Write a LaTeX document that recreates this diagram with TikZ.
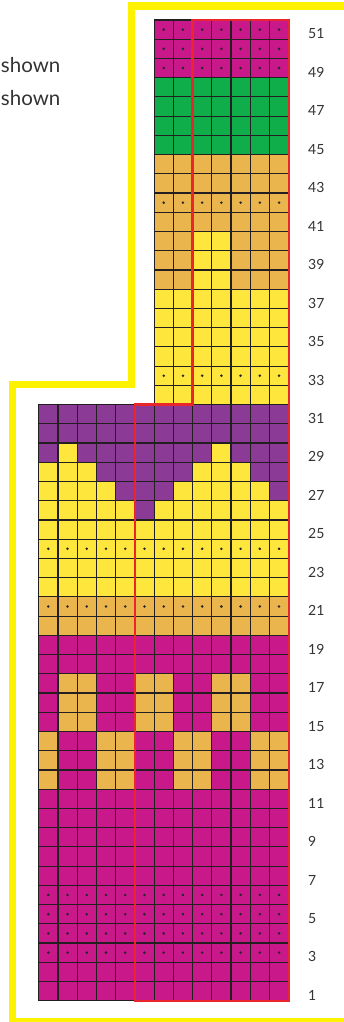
\documentclass[tikz,border=0pt]{standalone}
\usepackage{fontspec}
\setmainfont{Lato}
\definecolor{kM}{HTML}{C8188A}
\definecolor{kG}{HTML}{10AE4A}
\definecolor{kO}{HTML}{EAB54C}
\definecolor{kY}{HTML}{FFE63C}
\definecolor{kP}{HTML}{8B3A96}
\definecolor{gridc}{HTML}{231F20}
\definecolor{redline}{HTML}{E8262B}
\definecolor{bordc}{HTML}{FFF200}
\definecolor{txtc}{HTML}{333333}
\newcommand\gx{38.7}
\newcommand\gc{19.23}
\newcommand\gb{1000.7}
\newcommand\knitcell[3]{\filldraw[cellst, fill=k#3] ({\gx+(#1-1)*\gc},{\gb-#2*\gc}) rectangle ({\gx+#1*\gc},{\gb-(#2-1)*\gc});}
\tikzset{
  cellst/.style={draw=gridc, line width=1.15pt},
  dotst/.style={fill=black!85},
  redst/.style={draw=redline, line width=2.2pt, line join=miter},
  bordst/.style={draw=bordc, line width=7.4pt, line join=miter},
  lbl/.style={anchor=base west, inner sep=0pt, text=txtc, font=\fontsize{14}{14}\selectfont},
  note/.style={anchor=base east, inner sep=0pt, text=txtc, font=\fontsize{20.5}{20.5}\selectfont}
}
\begin{document}
\begin{tikzpicture}[x=1pt,y=-1pt]
\useasboundingbox (0,0) rectangle (344,1022);
\clip (0,0) rectangle (344,1022);
% lower section, 13 columns
\foreach \r/\p in {
 1/{M,M,M,M,M,M,M,M,M,M,M,M,M}, 2/{M,M,M,M,M,M,M,M,M,M,M,M,M},
 3/{M,M,M,M,M,M,M,M,M,M,M,M,M}, 4/{M,M,M,M,M,M,M,M,M,M,M,M,M},
 5/{M,M,M,M,M,M,M,M,M,M,M,M,M}, 6/{M,M,M,M,M,M,M,M,M,M,M,M,M},
 7/{M,M,M,M,M,M,M,M,M,M,M,M,M}, 8/{M,M,M,M,M,M,M,M,M,M,M,M,M},
 9/{M,M,M,M,M,M,M,M,M,M,M,M,M}, 10/{M,M,M,M,M,M,M,M,M,M,M,M,M},
 11/{M,M,M,M,M,M,M,M,M,M,M,M,M},
 12/{O,M,M,O,O,M,M,O,O,M,M,O,O}, 13/{O,M,M,O,O,M,M,O,O,M,M,O,O},
 14/{O,M,M,O,O,M,M,O,O,M,M,O,O},
 15/{M,O,O,M,M,O,O,M,M,O,O,M,M}, 16/{M,O,O,M,M,O,O,M,M,O,O,M,M},
 17/{M,O,O,M,M,O,O,M,M,O,O,M,M},
 18/{M,M,M,M,M,M,M,M,M,M,M,M,M}, 19/{M,M,M,M,M,M,M,M,M,M,M,M,M},
 20/{O,O,O,O,O,O,O,O,O,O,O,O,O}, 21/{O,O,O,O,O,O,O,O,O,O,O,O,O},
 22/{Y,Y,Y,Y,Y,Y,Y,Y,Y,Y,Y,Y,Y}, 23/{Y,Y,Y,Y,Y,Y,Y,Y,Y,Y,Y,Y,Y},
 24/{Y,Y,Y,Y,Y,Y,Y,Y,Y,Y,Y,Y,Y}, 25/{Y,Y,Y,Y,Y,Y,Y,Y,Y,Y,Y,Y,Y},
 26/{Y,Y,Y,Y,Y,P,Y,Y,Y,Y,Y,Y,Y},
 27/{Y,Y,Y,Y,P,P,P,Y,Y,Y,Y,Y,P},
 28/{Y,Y,Y,P,P,P,P,P,Y,Y,Y,P,P},
 29/{P,Y,P,P,P,P,P,P,P,Y,P,P,P},
 30/{P,P,P,P,P,P,P,P,P,P,P,P,P}, 31/{P,P,P,P,P,P,P,P,P,P,P,P,P}}{
  \foreach \c [count=\i] in \p {\knitcell{\i}{\r}{\c}}
}
% upper section, columns 7-13
\foreach \r/\p in {
 32/{Y,Y,Y,Y,Y,Y,Y}, 33/{Y,Y,Y,Y,Y,Y,Y}, 34/{Y,Y,Y,Y,Y,Y,Y},
 35/{Y,Y,Y,Y,Y,Y,Y}, 36/{Y,Y,Y,Y,Y,Y,Y}, 37/{Y,Y,Y,Y,Y,Y,Y},
 38/{O,O,Y,Y,O,O,O}, 39/{O,O,Y,Y,O,O,O}, 40/{O,O,Y,Y,O,O,O},
 41/{O,O,O,O,O,O,O}, 42/{O,O,O,O,O,O,O}, 43/{O,O,O,O,O,O,O},
 44/{O,O,O,O,O,O,O},
 45/{G,G,G,G,G,G,G}, 46/{G,G,G,G,G,G,G}, 47/{G,G,G,G,G,G,G},
 48/{G,G,G,G,G,G,G},
 49/{M,M,M,M,M,M,M}, 50/{M,M,M,M,M,M,M}, 51/{M,M,M,M,M,M,M}}{
  \foreach \c [count=\i from 7] in \p {\knitcell{\i}{\r}{\c}}
}
% dots
\foreach \r/\a in {3/1,4/1,5/1,6/1,21/1,24/1,33/7,42/7,49/7,50/7,51/7}{
  \foreach \i in {\a,...,13}{
    \fill[dotst] ({\gx+(\i-0.5)*\gc},{\gb-(\r-0.5)*\gc}) circle (1.4pt);
  }
}
% red outline
\coordinate (rA) at ({\gx+5*\gc},\gb);
\coordinate (rB) at ({\gx+13*\gc},\gb);
\coordinate (rC) at ({\gx+13*\gc},{\gb-51*\gc});
\coordinate (rD) at ({\gx+8*\gc},{\gb-51*\gc});
\coordinate (rE) at ({\gx+8*\gc},{\gb-31*\gc});
\coordinate (rF) at ({\gx+5*\gc},{\gb-31*\gc});
\draw[redst] (rA) -- (rB) -- (rC) -- (rD) -- (rE) -- (rF) -- cycle;
% row labels
\foreach \r in {1,3,...,51}{
  \node[lbl] (lab\r) at (308,{\gb-(\r-1)*\gc-0.3}) {\r};
}
% notes
\node[note] (note1) at (60.5,72.5) {shown};
\node[note] (note2) at (60.5,106) {shown};
% yellow border
\coordinate (yA) at (350,6);
\coordinate (yB) at (131.5,6);
\coordinate (yC) at (131.5,384.5);
\coordinate (yD) at (12.2,384.5);
\coordinate (yE) at (12.2,1021.2);
\coordinate (yF) at (350,1021.2);
\draw[bordst] (yA) -- (yB) -- (yC) -- (yD) -- (yE) -- (yF);
\end{tikzpicture}
\end{document}
